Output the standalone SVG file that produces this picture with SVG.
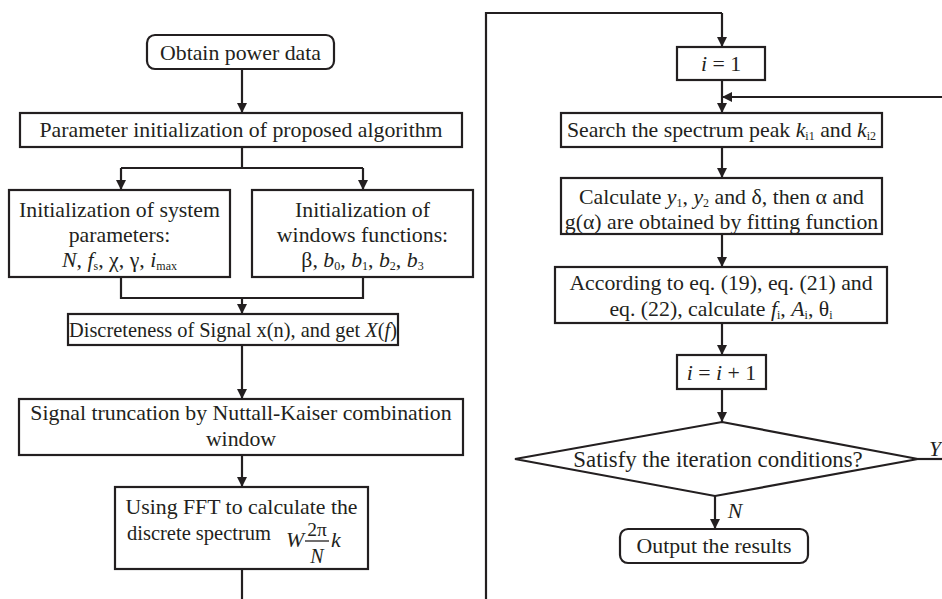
<svg xmlns="http://www.w3.org/2000/svg" width="942" height="599" viewBox="0 0 942 599">
<defs>
<marker id="ah" markerUnits="userSpaceOnUse" markerWidth="10" markerHeight="10" viewBox="0 0 10 10" refX="10" refY="5" orient="auto">
<path d="M0,0 L10,5 L0,10 z" fill="#231f20"/>
</marker>
</defs>
<style>
.b{fill:#fff;stroke:#231f20;stroke-width:2.2}
.t{font-family:"Liberation Serif","Times New Roman",serif;font-size:21.8px;fill:#231f20;text-anchor:middle}
.i{font-style:italic}
.s{font-size:12px}
.c{fill:none;stroke:#231f20;stroke-width:2.2}
.a{marker-end:url(#ah)}
</style>
<rect width="942" height="599" fill="#fff"/>
<g id="connectors">
<path class="c a" d="M242,69 V113"/>
<path class="c" d="M242,147 V168 M121,168 H363"/>
<path class="c a" d="M121,168 V190"/>
<path class="c a" d="M363,168 V190"/>
<path class="c" d="M121,277 V298 H363 V277"/>
<path class="c a" d="M242,298 V314"/>
<path class="c a" d="M242,345 V399"/>
<path class="c a" d="M242,455 V487"/>
<path class="c" d="M242,569 V599"/>
<path class="c" d="M486,599 V13 H722"/>
<path class="c a" d="M722,13 V47"/>
<path class="c a" d="M722,80 V113"/>
<path class="c a" d="M948,97 H722"/>
<path class="c a" d="M722,147 V178"/>
<path class="c a" d="M722,234 V267"/>
<path class="c a" d="M722,323 V355"/>
<path class="c a" d="M722,389 V422"/>
<path class="c" d="M918,459 H948"/>
<path class="c a" d="M715,496 V529"/>
<text class="t i" x="935" y="456">Y</text>
<text class="t i" x="735" y="518">N</text>
</g>
<g id="n1"><rect class="b" x="147" y="35" width="187" height="34" rx="8"/><text class="t" x="240.5" y="60">Obtain power data</text></g>
<g id="n2"><rect class="b" x="20" y="113" width="442" height="34"/><text class="t" x="241" y="137">Parameter initialization of proposed algorithm</text></g>
<g id="n3"><rect class="b" x="9" y="190" width="221" height="87"/>
<text class="t" x="119.5" y="217">Initialization of system</text>
<text class="t" x="119.5" y="242">parameters:</text>
<text class="t" x="119.5" y="267"><tspan class="i">N</tspan>, <tspan class="i">f</tspan><tspan class="s" dy="3">s</tspan><tspan dy="-3">, χ, γ, </tspan><tspan class="i">i</tspan><tspan class="s" dy="3">max</tspan></text></g>
<g id="n4"><rect class="b" x="252" y="190" width="221" height="87"/>
<text class="t" x="362.5" y="217">Initialization of</text>
<text class="t" x="362.5" y="242">windows functions:</text>
<text class="t" x="362.5" y="267">β, <tspan class="i">b</tspan><tspan class="s" dy="3">0</tspan><tspan dy="-3">, </tspan><tspan class="i">b</tspan><tspan class="s" dy="3">1</tspan><tspan dy="-3">, </tspan><tspan class="i">b</tspan><tspan class="s" dy="3">2</tspan><tspan dy="-3">, </tspan><tspan class="i">b</tspan><tspan class="s" dy="3">3</tspan></text></g>
<g id="n5"><rect class="b" x="68" y="314" width="330" height="31"/><text class="t" x="233" y="337" style="font-size:20.4px">Discreteness of Signal x(n), and get <tspan class="i">X</tspan>(<tspan class="i">f</tspan>)</text></g>
<g id="n6"><rect class="b" x="19" y="399" width="444" height="56"/>
<text class="t" x="241" y="420">Signal truncation by Nuttall-Kaiser combination</text>
<text class="t" x="241" y="446">window</text></g>
<g id="n7"><rect class="b" x="115" y="487" width="253" height="82"/>
<text class="t" x="241.5" y="514">Using FFT to calculate the</text>
<text class="t" x="127" y="540" style="text-anchor:start;font-size:20.5px">discrete spectrum</text>
<text class="t i" x="286" y="547" style="text-anchor:start">W</text>
<text class="t" x="317" y="536" style="font-size:19.5px">2π</text>
<line x1="305" y1="541" x2="329" y2="541" stroke="#231f20" stroke-width="1.3"/>
<text class="t i" x="317" y="563" style="font-size:20px">N</text>
<text class="t i" x="331" y="547" style="text-anchor:start">k</text></g>
<g id="n8"><rect class="b" x="677" y="47" width="88" height="33"/><text class="t" x="721" y="71"><tspan class="i">i</tspan> = 1</text></g>
<g id="n9"><rect class="b" x="561" y="113" width="321" height="34"/><text class="t" x="721.5" y="137">Search the spectrum peak <tspan class="i">k</tspan><tspan class="s" dy="3">i1</tspan><tspan dy="-3"> and </tspan><tspan class="i">k</tspan><tspan class="s" dy="3">i2</tspan></text></g>
<g id="n10"><rect class="b" x="561" y="178" width="321" height="56"/>
<text class="t" x="721.5" y="204">Calculate <tspan class="i">y</tspan><tspan class="s" dy="3">1</tspan><tspan dy="-3">, </tspan><tspan class="i">y</tspan><tspan class="s" dy="3">2</tspan><tspan dy="-3"> and δ, then α and</tspan></text>
<text class="t" x="721.5" y="229">g(α) are obtained by fitting function</text></g>
<g id="n11"><rect class="b" x="555" y="267" width="332" height="56"/>
<text class="t" x="721" y="290">According to eq. (19), eq. (21) and</text>
<text class="t" x="721" y="316">eq. (22), calculate <tspan class="i">f</tspan><tspan class="s" dy="3">i</tspan><tspan dy="-3">, </tspan><tspan class="i">A</tspan><tspan class="s" dy="3">i</tspan><tspan dy="-3">, θ</tspan><tspan class="s" dy="3">i</tspan></text></g>
<g id="n12"><rect class="b" x="677" y="355" width="89" height="34"/><text class="t" x="721.5" y="380"><tspan class="i">i</tspan> = <tspan class="i">i</tspan> + 1</text></g>
<g id="n13"><path class="b" d="M722,422 L918,459 L715,496 L515,459 Z"/><text class="t" x="718" y="467" style="font-size:22.8px">Satisfy the iteration conditions?</text></g>
<g id="n14"><rect class="b" x="620" y="529" width="188" height="34" rx="8"/><text class="t" x="714" y="553">Output the results</text></g>
</svg>
